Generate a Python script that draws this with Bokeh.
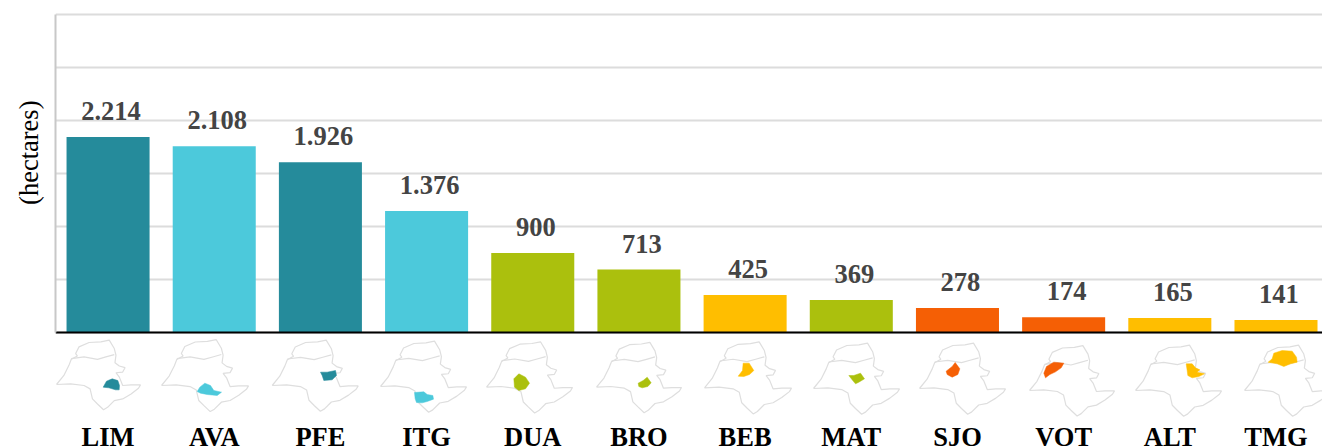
from bokeh.plotting import figure
from bokeh.embed import file_html
from bokeh.resources import INLINE
from bokeh.models import ColumnDataSource, Range1d, FixedTicker, Title
from bokeh.core.properties import value

categories = ["LIM", "AVA", "PFE", "ITG", "DUA", "BRO", "BEB", "MAT", "SJO", "VOT", "ALT", "TMG"]
hectares = [2214, 2108, 1926, 1376, 900, 713, 425, 369, 278, 174, 165, 141]
TEAL, SKY, OLIVE, AMBER, ORANGE = "#258b9b", "#4cc9db", "#abc00d", "#ffbe00", "#f55f05"
bar_colors = [TEAL, SKY, TEAL, SKY, OLIVE, OLIVE, AMBER, OLIVE, ORANGE, ORANGE, AMBER, AMBER]
y_ticks = [0, 600, 1200, 1800, 2400, 3000, 3600]

# Hand-traced state outline (3x crop px)
outline_trace = [(18,147),(40,120),(55,90),(62,72),(80,62),(75,55),(85,35),(115,22),(150,20),(175,15),(190,40),
                 (195,60),(192,82),(205,92),(222,97),(215,110),(195,112),(205,125),(215,150),(240,148),(268,148),
                 (262,158),(240,175),(215,190),(190,195),(170,215),(158,222),(140,205),(125,190),(118,160),
                 (100,150),(60,145),(18,147)]
divide_trace = [(62,70),(100,65),(140,72),(165,65),(190,58)]
inset_tip_x = [56, 161, 271.7, 380, 486, 596, 704, 813, 919, 1029, 1135, 1244]
inset_tip_y = [384, 385, 385, 386, 386.7, 386.7, 387.3, 388, 388, 390, 390, 390]
inset_width = [84, 87, 86, 86, 86, 85, 87, 86, 86, 85, 86, 86]

crop_origin = [(40,330)]*3 + [(360,330)]*3 + [(680,330)]*3 + [(1000,330)]*3
region_trace = [
    [(188,170),(198,152),(215,145),(232,150),(237,165),(236,178),(225,178),(205,172)],
    [(470,183),(478,170),(493,158),(510,165),(520,180),(543,185),(530,195),(500,192),(480,188)],
    [(840,125),(860,125),(885,120),(888,135),(875,148),(850,150),(845,135)],
    [(162,186),(190,184),(200,192),(217,195),(219,206),(200,213),(185,217),(168,216),(164,205)],
    [(460,145),(475,130),(495,140),(507,158),(495,175),(475,180),(462,170)],
    [(833,158),(848,150),(860,140),(872,157),(862,168),(845,172),(835,168)],
    [(173,137),(186,120),(188,98),(206,98),(220,120),(207,132),(190,138)],
    [(505,135),(520,135),(540,128),(552,145),(535,155),(525,160),(515,148)],
    [(797,122),(815,108),(824,96),(838,115),(832,132),(815,140),(800,132)],
    [(130,128),(138,108),(160,95),(190,98),(182,112),(165,124),(148,132),(135,142)],
    [(557,100),(575,100),(585,112),(598,118),(590,125),(612,130),(595,138),(575,142),(562,135),(560,120)],
    [(803,95),(815,85),(820,68),(845,60),(875,62),(888,80),(890,95),(870,100),(850,108),(830,100)],
]

FONT = "Liberation Serif"
FW, FH = 1322, 446
L, T = 55, 12
PX_PER_UNIT = 318 / 3600

p = figure(width=FW, height=FH, output_backend="svg", toolbar_location=None,
           x_range=Range1d(-0.495, 11.438),
           y_range=Range1d(-(FH - 332) / PX_PER_UNIT, 3600 + (14 - T) / PX_PER_UNIT),
           min_border_left=L, min_border_right=0, min_border_top=T, min_border_bottom=0,
           outline_line_color=None, background_fill_color="white")
p.extra_x_ranges["px"] = Range1d(L, FW)
p.extra_y_ranges["px"] = Range1d(FH, T)

# grid and axes
p.xgrid.visible = False
p.ygrid.ticker = FixedTicker(ticks=y_ticks)
p.ygrid.grid_line_color = "#dcdcdc"
p.ygrid.grid_line_width = 2
p.ygrid.bounds = (0, 3600)

p.yaxis.ticker = FixedTicker(ticks=[])
p.yaxis.bounds = (0, 3600)
p.yaxis.axis_line_color = "#c8c8c8"
p.yaxis.axis_line_width = 2
p.yaxis.major_tick_line_color = None
p.yaxis.minor_tick_line_color = None

p.add_layout(Title(text="(hectares)", align="right", offset=88, standoff=23,
                   text_font=FONT, text_font_style="normal", text_font_size="26.5px",
                   text_color="#000000"), "left")

xa = p.xaxis[0]
xa.ticker = FixedTicker(ticks=list(range(len(categories))))
xa.major_label_overrides = {i: c for i, c in enumerate(categories)}
xa.fixed_location = 0
xa.axis_line_color = "#000000"
xa.axis_line_width = 2
xa.major_tick_line_color = None
xa.minor_tick_line_color = None
xa.major_label_standoff = 83
xa.major_label_text_font = FONT
xa.major_label_text_font_style = "bold"
xa.major_label_text_font_size = "26.5px"
xa.major_label_text_color = "#000000"

src = ColumnDataSource(dict(
    x=list(range(len(categories))), cat=categories, v=hectares, c=bar_colors,
    txt=[f"{v:,}".replace(",", ".") for v in hectares]))
p.vbar(x="x", top="v", bottom=0, width=0.782, fill_color="c", line_color=None, source=src)
p.text(x="x", y="v", text="txt", source=src, text_align="center", text_baseline="middle",
       x_offset=3, y_offset=-26, text_font=value(FONT), text_font_style="bold",
       text_font_size="26.5px", text_color="#444444")

# inset locator maps
tw = outline_trace[0]
span = max(q[0] for q in outline_trace) - tw[0]
for i in range(len(categories)):
    k = inset_width[i] / span
    xs = [inset_tip_x[i] + (q[0] - tw[0]) * k for q in outline_trace]
    ys = [inset_tip_y[i] + (q[1] - tw[1]) * k for q in outline_trace]
    p.line(xs, ys, x_range_name="px", y_range_name="px", line_color="#dedede", line_width=1.2)
    xs = [inset_tip_x[i] + (q[0] - tw[0]) * k for q in divide_trace]
    ys = [inset_tip_y[i] + (q[1] - tw[1]) * k for q in divide_trace]
    p.line(xs, ys, x_range_name="px", y_range_name="px", line_color="#dedede", line_width=1.2)
    ox, oy = crop_origin[i]
    p.patch([ox + q[0] / 3 for q in region_trace[i]], [oy + q[1] / 3 for q in region_trace[i]],
            x_range_name="px", y_range_name="px", fill_color=bar_colors[i], line_color=bar_colors[i], line_width=0.5)

open("out.html", "w").write(file_html(p, INLINE))
